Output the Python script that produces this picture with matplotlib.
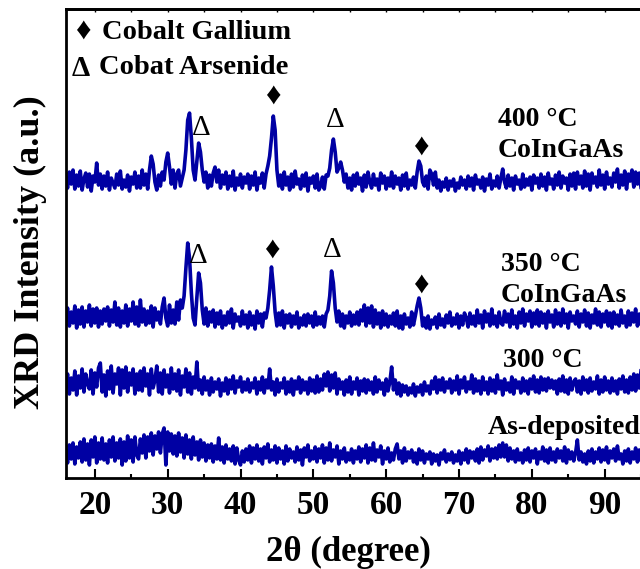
import numpy as np
import matplotlib
matplotlib.use("Agg")
import matplotlib.pyplot as plt

# ---------------- data ----------------
two_theta_start = 16.0
two_theta_step = 0.25

int_400 = [
    22, 12, 28, 16, 30, 11, 25, 14, 29, 10, 21, 27, 13, 26, 9, 24, 18, 37, 15, 26,
    11, 24, 14, 28, 10, 22, 17, 12, 26, 15, 29, 11, 20, 13, 25, 9, 23, 16, 28, 12,
    24, 12, 30, 15, 26, 11, 30, 44, 36, 18, 10, 25, 14, 28, 20, 38, 47, 33, 16, 30,
    12, 26, 30, 14, 22, 30, 50, 80, 87, 62, 30, 20, 38, 57, 48, 30, 18, 28, 12, 25,
    14, 27, 33, 18, 30, 12, 25, 16, 28, 11, 24, 14, 29, 10, 22, 15, 26, 12, 23, 17,
    26, 11, 24, 15, 28, 10, 22, 17, 27, 12, 26, 34, 44, 62, 84, 70, 30, 14, 25, 11,
    28, 15, 23, 10, 26, 13, 29, 16, 21, 11, 25, 14, 27, 9, 22, 17, 24, 12, 26, 10,
    14, 23, 11, 25, 24, 32, 50, 61, 48, 28, 32, 38, 30, 18, 26, 12, 22, 10, 25, 14,
    27, 16, 22, 9, 25, 13, 28, 18, 12, 26, 15, 21, 10, 27, 17, 24, 11, 22, 14, 28,
    12, 24, 16, 22, 10, 25, 14, 27, 11, 20, 15, 23, 12, 28, 39, 34, 18, 14, 24, 11,
    30, 26, 15, 28, 12, 20, 9, 18, 13, 22, 10, 19, 14, 21, 9, 17, 12, 23, 15, 20,
    11, 24, 14, 22, 10, 25, 16, 20, 12, 23, 9, 21, 15, 26, 11, 19, 14, 24, 12, 22,
    31, 18, 12, 25, 14, 22, 10, 24, 16, 20, 11, 26, 13, 21, 15, 23, 10, 25, 17, 22,
    12, 26, 14, 23, 10, 27, 16, 21, 11, 25, 15, 28, 12, 24, 17, 22, 10, 26, 14, 27,
    11, 28, 16, 24, 12, 29, 14, 26, 10, 27, 17, 23, 13, 30, 15, 25, 11, 28, 16, 22,
    13, 27, 18, 31, 12, 25, 15, 29, 11, 26, 19, 30, 13, 28, 16, 27, 12, 24, 19, 22,
]

int_350 = [
    20, 30, 12, 26, 15, 32, 10, 28, 14, 31, 11, 27, 16, 33, 12, 29, 15, 30, 11, 27,
    14, 29, 17, 31, 12, 28, 16, 36, 13, 30, 11, 27, 15, 33, 12, 29, 17, 36, 14, 31,
    12, 38, 16, 29, 13, 27, 15, 32, 11, 30, 18, 26, 14, 31, 40, 20, 12, 33, 15, 28,
    14, 36, 18, 38, 30, 42, 70, 95, 80, 45, 20, 13, 40, 65, 55, 28, 14, 30, 12, 26,
    16, 28, 11, 25, 14, 27, 10, 22, 13, 26, 15, 29, 10, 24, 17, 21, 12, 27, 14, 23,
    10, 26, 13, 22, 9, 27, 15, 24, 11, 25, 20, 30, 48, 71, 52, 26, 12, 25, 13, 27,
    10, 23, 15, 24, 11, 22, 14, 26, 10, 20, 13, 23, 12, 24, 15, 22, 11, 26, 13, 21,
    14, 22, 11, 24, 28, 42, 67, 55, 30, 16, 27, 12, 24, 10, 22, 15, 26, 12, 23, 14,
    26, 13, 28, 17, 33, 12, 30, 15, 32, 11, 28, 14, 25, 10, 27, 13, 24, 11, 22, 14,
    25, 12, 27, 10, 22, 9, 24, 14, 20, 11, 26, 13, 22, 32, 40, 30, 12, 20, 10, 22,
    9, 18, 14, 21, 10, 24, 13, 19, 11, 23, 15, 26, 12, 20, 14, 24, 10, 22, 13, 25,
    20, 11, 25, 14, 22, 12, 28, 15, 23, 10, 27, 16, 24, 12, 29, 14, 22, 11, 26, 15,
    13, 27, 16, 24, 11, 28, 14, 22, 10, 26, 15, 29, 12, 24, 17, 27, 11, 25, 14, 28,
    12, 26, 15, 24, 10, 27, 16, 23, 11, 28, 14, 25, 12, 29, 15, 24, 10, 26, 17, 22,
    14, 27, 11, 24, 16, 28, 12, 25, 10, 23, 15, 29, 13, 26, 11, 24, 16, 27, 12, 25,
    10, 26, 14, 23, 12, 28, 15, 22, 11, 27, 13, 25, 16, 29, 12, 24, 14, 26, 11, 23,
]

int_300 = [
    18, 30, 10, 26, 14, 33, 9, 28, 16, 35, 12, 30, 20, 15, 34, 10, 31, 17, 36, 41,
    12, 29, 8, 33, 15, 38, 11, 30, 20, 36, 9, 34, 16, 37, 12, 31, 19, 35, 10, 30,
    14, 33, 13, 36, 18, 30, 9, 35, 16, 24, 38, 12, 31, 10, 34, 17, 29, 11, 36, 15,
    30, 13, 34, 9, 28, 17, 35, 12, 31, 10, 27, 16, 42, 14, 24, 10, 27, 14, 23, 9,
    26, 12, 22, 15, 25, 8, 21, 13, 26, 10, 24, 15, 28, 11, 23, 17, 27, 12, 22, 14,
    25, 12, 21, 16, 26, 10, 22, 14, 27, 11, 24, 16, 35, 14, 22, 9, 25, 12, 21, 16,
    26, 10, 22, 12, 25, 9, 23, 15, 27, 11, 24, 14, 22, 10, 26, 13, 24, 11, 28, 12,
    25, 14, 30, 18, 32, 13, 29, 16, 31, 10, 25, 15, 22, 9, 24, 12, 27, 10, 22, 15,
    26, 9, 23, 13, 25, 11, 24, 14, 22, 10, 27, 12, 24, 15, 21, 9, 25, 13, 22, 37,
    14, 24, 10, 21, 8, 19, 12, 18, 9, 16, 11, 20, 8, 17, 12, 19, 9, 22, 13, 18,
    10, 23, 15, 27, 11, 24, 14, 26, 12, 22, 16, 25, 11, 23, 14, 28, 10, 24, 16, 27,
    12, 22, 15, 29, 11, 25, 13, 23, 10, 27, 14, 22, 10, 26, 13, 24, 11, 29, 15, 23,
    9, 25, 14, 21, 12, 27, 10, 24, 16, 22, 11, 26, 13, 23, 10, 25, 15, 28, 12, 24,
    11, 27, 14, 25, 13, 26, 16, 24, 15, 23, 10, 25, 13, 28, 12, 24, 10, 26, 14, 22,
    25, 12, 23, 10, 27, 14, 24, 11, 26, 13, 22, 15, 28, 10, 24, 12, 27, 14, 23, 11,
    26, 13, 23, 10, 25, 15, 28, 12, 24, 11, 27, 14, 30, 13, 29, 16, 34, 15, 31, 18,
]

int_asdep = [
    22, 10, 28, 14, 30, 9, 26, 15, 31, 11, 34, 13, 29, 8, 33, 16, 36, 10, 30, 14,
    35, 13, 29, 10, 33, 16, 36, 12, 30, 15, 34, 8, 31, 12, 37, 15, 33, 11, 36, 18,
    14, 34, 20, 38, 15, 36, 22, 40, 18, 37, 24, 41, 20, 39, 45, 8, 41, 22, 39, 19,
    37, 17, 40, 21, 35, 15, 38, 19, 33, 14, 36, 18, 31, 13, 33, 16, 30, 12, 28, 15,
    29, 11, 27, 14, 35, 13, 26, 10, 28, 14, 24, 12, 27, 9, 25, 13, 8, 22, 11, 24,
    13, 27, 10, 25, 14, 28, 12, 24, 9, 26, 15, 29, 11, 23, 13, 27, 10, 25, 14, 22,
    9, 27, 12, 24, 15, 21, 11, 26, 13, 23, 8, 25, 16, 28, 12, 22, 14, 26, 11, 24,
    15, 28, 10, 25, 13, 30, 12, 23, 16, 27, 9, 22, 14, 25, 11, 20, 13, 24, 10, 22,
    14, 26, 11, 24, 15, 28, 10, 25, 13, 30, 12, 23, 16, 27, 9, 22, 14, 25, 11, 20,
    13, 24, 29, 14, 22, 10, 25, 12, 21, 15, 23, 11, 20, 9, 24, 13, 22, 10, 19, 14,
    21, 9, 19, 12, 18, 8, 20, 14, 23, 11, 19, 13, 21, 10, 18, 12, 22, 9, 20, 13,
    24, 10, 22, 15, 21, 12, 24, 10, 26, 13, 23, 17, 27, 12, 24, 15, 25, 14, 28, 16,
    30, 16, 28, 12, 25, 14, 22, 11, 24, 13, 20, 10, 23, 13, 25, 11, 22, 15, 24, 9,
    21, 14, 26, 12, 23, 10, 25, 13, 21, 11, 24, 15, 22, 12, 26, 10, 23, 14, 21, 12,
    20, 33, 13, 21, 11, 19, 9, 22, 12, 24, 10, 21, 14, 25, 11, 23, 13, 26, 10, 22,
    15, 24, 12, 27, 14, 19, 9, 22, 12, 24, 10, 21, 14, 25, 11, 23, 13, 26, 10, 22,
]

series = [int_asdep, int_300, int_350, int_400]
offsets = [5, 74, 140, 278]

sample_labels = ["As-deposited", "300 \u00b0C", "350 \u00b0C\nCoInGaAs", "400 \u00b0C\nCoInGaAs"]
label_pos = [(74.0, 44), (76.0, 111), (75.75, 176), (75.3, 321)]

gallium_marks = [(44.5, 382), (64.75, 331), (44.3, 228), (64.7, 193)]
arsenide_marks = [(34.58, 350), (53.0, 358), (34.2, 222), (52.6, 228)]

legend_entries = ["Cobalt Gallium", "Cobat Arsenide"]

xticks_major = [20, 30, 40, 50, 60, 70, 80, 90]

# ---------------- plot ----------------
serif = ["Liberation Serif", "DejaVu Serif"]
plt.rcParams["font.family"] = serif
plt.rcParams["font.weight"] = "bold"

fig = plt.figure(figsize=(6.4, 5.69), dpi=100)
ax = fig.add_axes([0.1027, 0.16, 0.899, 0.824])

color = "#0000A3"
for vals, off in zip(series, offsets):
    v = np.asarray(vals, dtype=float)
    x = two_theta_start + two_theta_step * np.arange(len(v))
    ax.plot(x, v + off, color=color, lw=2.6, solid_joinstyle="round")

ax.set_xlim(16, 95)
ax.set_ylim(0, 469)
ax.set_yticks([])
ax.set_xticks(xticks_major)
ax.set_xticks([25, 35, 45, 55, 65, 75, 85, 95], minor=True)
ax.tick_params(axis="x", which="major", direction="in", length=6.5, width=1.5,
               labelsize=24, pad=9)
ax.tick_params(axis="x", which="minor", direction="in", length=3.2, width=1.5)
for lab in ax.get_xticklabels():
    lab.set_fontweight("bold")
for s in ax.spines.values():
    s.set_linewidth(2.0)

sec = ax.secondary_xaxis("top")
sec.set_xticks(list(range(20, 96, 5)))
sec.tick_params(direction="in", length=2.5, width=1.0, labeltop=False)
sec.spines["top"].set_linewidth(2.0)

for (lx, ly), txt in zip(label_pos, sample_labels):
    ax.text(lx, ly, txt, fontsize=20, fontweight="bold", ha="left", va="baseline",
            linespacing=1.3)

diamond_family = serif + ["DejaVu Sans"]
for gx, gy in gallium_marks:
    ax.text(gx, gy, "\u2666", fontsize=22, ha="center", va="center",
            family=diamond_family)
for tx, ty in arsenide_marks:
    ax.text(tx, ty, "\u0394", fontsize=21, fontweight="normal", ha="center", va="center")

# legend-like annotation
ax.text(18.35, 447, "\u2666", fontsize=22, ha="center", va="center", family=diamond_family)
ax.text(20.96, 439, legend_entries[0], fontsize=20.5, fontweight="bold",
        ha="left", va="baseline")
ax.text(18.1, 410, "\u0394", fontsize=21, fontweight="bold", ha="center", va="center")
ax.text(20.5, 404, legend_entries[1], fontsize=20.5, fontweight="bold",
        ha="left", va="baseline")

fig.text(348 / 640, 1 - 561 / 569, "2\u03b8 (degree)", fontsize=25, fontweight="bold",
         ha="center", va="baseline")
fig.text(30 / 640, 1 - 252 / 569, "XRD Intensity (a.u.)", fontsize=26, fontweight="bold",
         ha="center", va="center", rotation=90)

fig.savefig("out.png", dpi=100)
